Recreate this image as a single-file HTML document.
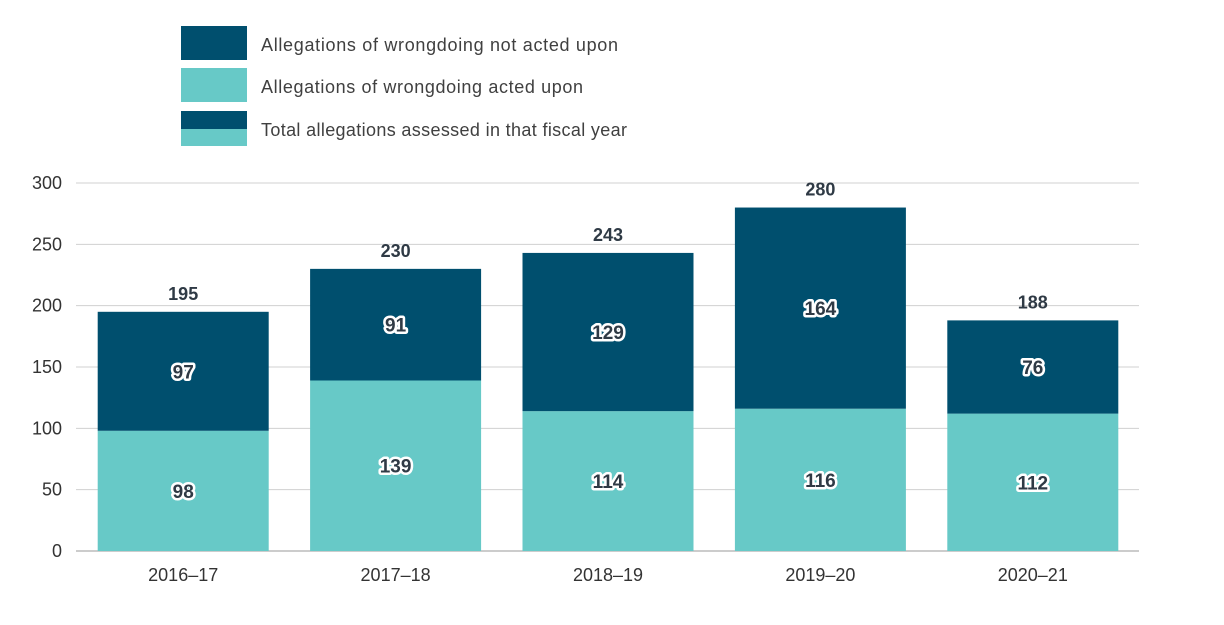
<!DOCTYPE html>
<html><head><meta charset="utf-8"><style>
body{margin:0;background:#fff;}
svg{display:block;font-family:"Liberation Sans",sans-serif;}
</style></head><body>
<svg id="chart" width="1224" height="625" viewBox="0 0 1224 625">
<g>
 <g>
  <rect x="181" y="26" width="66" height="34" fill="#004f6e"/>
  <text x="261" y="51" font-size="18" textLength="357" fill="#404040">Allegations of wrongdoing not acted upon</text>
 </g>
 <g>
  <rect x="181" y="68" width="66" height="34" fill="#67c9c7"/>
  <text x="261" y="93" font-size="18" textLength="322" fill="#404040">Allegations of wrongdoing acted upon</text>
 </g>
 <g>
  <rect x="181" y="111" width="66" height="18" fill="#004f6e"/>
  <rect x="181" y="129" width="66" height="17" fill="#67c9c7"/>
  <text x="261" y="136" font-size="18" textLength="366" fill="#404040">Total allegations assessed in that fiscal year</text>
 </g>
</g>
<g id="grid"></g><g id="bars"></g><g id="labels"></g>
</svg>
<script>
const categories=["2016–17","2017–18","2018–19","2019–20","2020–21"];
const actedUpon=[98,139,114,116,112];
const notActedUpon=[97,91,129,164,76];
const totals=[195,230,243,280,188];
const yTicks=[0,50,100,150,200,250,300];
const NS="http://www.w3.org/2000/svg";
const x0=77,x1=1139,yBase=551,yTop=183,yMax=300;
const band=(x1-x0)/categories.length,barW=171;
const y=v=>yBase-(v/yMax)*(yBase-yTop);
const bx=i=>x0+band*i+(band-barW)/2;
function mk(tag,attrs,parent){const e=document.createElementNS(NS,tag);for(const k in attrs)e.setAttribute(k,attrs[k]);parent.appendChild(e);return e;}
const grid=document.getElementById('grid'),bars=document.getElementById('bars'),labels=document.getElementById('labels');
yTicks.forEach(t=>{
 const l=mk('line',{x1:x0-1,x2:x1,y1:y(t),y2:y(t),stroke:t===0?'#999':'#d0d0d0','stroke-width':1},grid);
 
 
 const tx=mk('text',{x:62,y:y(t)+6,'text-anchor':'end','font-size':18,fill:'#333'},grid);
 tx.textContent=t;
 
 
});
categories.forEach((c,i)=>{
 const a=mk('rect',{x:bx(i),y:y(actedUpon[i]),width:barW,height:yBase-y(actedUpon[i]),fill:'#67c9c7'},bars);
 
 
 const n=mk('rect',{x:bx(i),y:y(actedUpon[i]+notActedUpon[i]),width:barW,height:y(actedUpon[i])-y(actedUpon[i]+notActedUpon[i]),fill:'#004f6e'},bars);
 
 
 const cx=bx(i)+barW/2;
 [[actedUpon[i],y(actedUpon[i]/2)],[notActedUpon[i],y(actedUpon[i]+notActedUpon[i]/2)]].forEach(([v,py])=>{
  const t=mk('text',{x:cx,y:py+7,'text-anchor':'middle','font-size':19,'font-weight':'bold',fill:'#2f3a45',stroke:'#fff','stroke-width':5,'stroke-linejoin':'round','paint-order':'stroke'},labels);
  t.textContent=v;
  
  
 });
 const tt=mk('text',{x:cx,y:y(totals[i])-12,'text-anchor':'middle','font-size':18,'font-weight':'bold',fill:'#2f3a45'},labels);
 tt.textContent=totals[i];
 
 
 const xl=mk('text',{x:cx,y:581,'text-anchor':'middle','font-size':18,fill:'#333'},labels);
 xl.textContent=c;
 
 
});
</script>
</body></html>
